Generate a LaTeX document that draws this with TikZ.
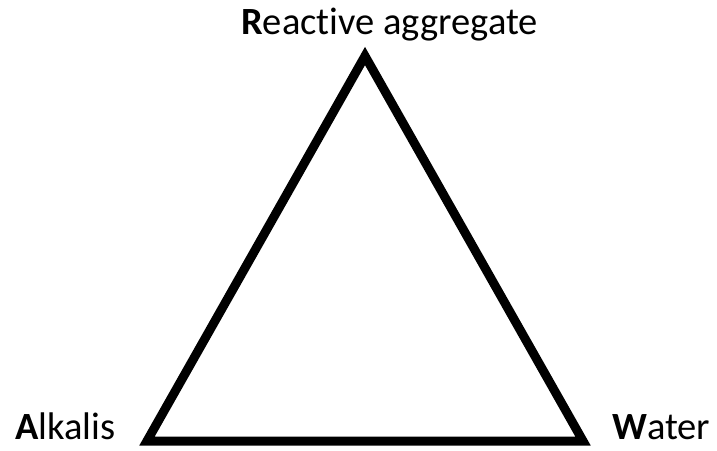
\documentclass[tikz,border=0pt]{standalone}
\usepackage{fontspec}
\setmainfont{Carlito}[RawFeature=-liga]
\usepackage{tikz}
\usetikzlibrary{positioning,calc}
\definecolor{TriBlack}{HTML}{000000}
\definecolor{TriWhite}{HTML}{ffffff}
\tikzset{
    % Corner point of the triangle
    cornerpoint/.style={
        inner sep=0pt,
        outer sep=0pt
    },
    % Label at a corner
    cornerlabel/.style={
        inner sep=0pt,
        text=TriBlack,
        font=\fontsize{38.5}{42}\selectfont
    },
    % Triangle sides
    triside/.style={
        draw=TriBlack,
        line width=9pt,
        line join=miter
    }
}
\begin{document}
\begin{tikzpicture}[x=1pt,y=1pt]
    \useasboundingbox (0,0) rectangle (717,450);
    \coordinate (r) at (365,394);
    \coordinate (a) at (147,9);
    \coordinate (w) at (583,9);
    \draw[triside] (r) -- (a) -- (w) -- cycle;
    \node[cornerlabel,anchor=base] (rl) at (389.5,415) {\textbf{R}eactive aggregate};
    \node[cornerlabel,anchor=base west] (al) at (15,11) {\textbf{A}lkalis};
    \node[cornerlabel,anchor=base west] (wl) at (612,11) {\textbf{W}ater};
\end{tikzpicture}
\end{document}
